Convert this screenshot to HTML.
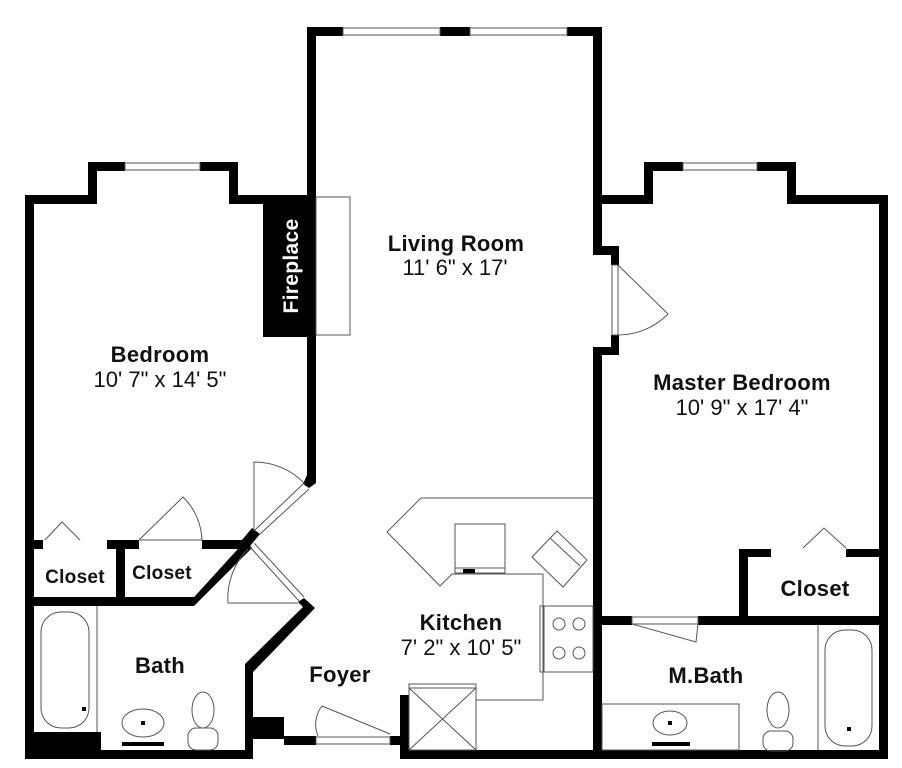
<!DOCTYPE html>
<html><head><meta charset="utf-8"><style>
html,body{margin:0;padding:0;background:#fff;}
svg{display:block;}
text{font-family:"Liberation Sans",Arial,sans-serif;fill:#111;}
.b{font-weight:bold;font-size:22px;letter-spacing:0.3px;}
.r{font-size:22px;}
</style></head><body>
<svg width="902" height="768" viewBox="0 0 902 768" xmlns="http://www.w3.org/2000/svg">
<g fill="#000">
<rect x="307" y="27" width="9" height="456"/>
<rect x="307" y="27" width="36" height="9"/>
<rect x="440" y="27" width="30" height="9"/>
<rect x="567" y="27" width="35" height="9"/>
<rect x="593" y="27" width="9" height="228"/>
<rect x="593" y="246" width="26" height="9"/>
<rect x="611" y="246" width="8" height="19"/>
<rect x="611" y="335" width="8" height="20"/>
<rect x="593" y="347" width="26" height="8"/>
<rect x="593" y="347" width="9" height="412"/>
<rect x="25" y="195" width="9" height="564"/>
<rect x="25" y="195" width="72" height="9"/>
<rect x="88" y="162" width="9" height="42"/>
<rect x="88" y="162" width="37" height="9"/>
<rect x="200" y="162" width="38" height="9"/>
<rect x="229" y="162" width="9" height="42"/>
<rect x="229" y="195" width="80" height="9"/>
<rect x="263" y="195" width="53" height="142"/>
<rect x="593" y="195" width="60" height="9"/>
<rect x="644" y="162" width="9" height="42"/>
<rect x="644" y="162" width="39" height="9"/>
<rect x="757" y="162" width="39" height="9"/>
<rect x="787" y="162" width="9" height="42"/>
<rect x="787" y="195" width="101" height="9"/>
<rect x="879" y="195" width="9" height="564"/>
<rect x="400" y="750" width="488" height="9"/>
<rect x="400" y="695" width="9" height="64"/>
<rect x="25" y="750" width="227" height="9"/>
<rect x="245" y="668" width="8" height="91"/>
<rect x="252" y="717" width="32" height="22"/>
<rect x="284" y="736" width="32" height="9"/>
<rect x="390" y="736" width="12" height="9"/>
<rect x="34" y="732" width="67" height="18"/>
<rect x="602" y="616" width="30" height="9"/>
<rect x="698" y="616" width="190" height="9"/>
<rect x="739" y="549" width="9" height="72"/>
<rect x="739" y="549" width="32" height="8"/>
<rect x="846" y="549" width="35" height="8"/>
<rect x="34" y="540" width="9" height="9"/>
<rect x="107" y="540" width="32" height="9"/>
<rect x="202" y="540" width="42" height="9"/>
<rect x="116" y="540" width="9" height="65"/>
<rect x="34" y="597" width="160" height="9"/>
<polygon points="186,606 194,606 252,548 246,540"/>
<polygon points="307,475 316,475 316,483 309,488 303,484"/>
<polygon points="252,528 260,534 250,546 242,540"/>
<polygon points="298,602 304,598 315,608 253,672 245,668 245,664 303,607"/>
</g>
<g fill="none" stroke="#555" stroke-width="1">
<rect x="343" y="28" width="97" height="7"/>
<rect x="470" y="28" width="97" height="7"/>
<rect x="125" y="163" width="75" height="7"/>
<rect x="683" y="163" width="74" height="7"/>
<rect x="316" y="197" width="34" height="138"/>
<rect x="612" y="265" width="6" height="70"/>
<path d="M618,265 L668,314 A70,70 0 0 1 618,335"/>
<path d="M303,484 L254,531 M309,489 L259,535"/>
<path d="M254,531 L254,462 A70,70 0 0 1 305,484"/>
<path d="M250,547 L299,601 M254,543 L304,597"/>
<path d="M298,603 L228,603 A70,70 0 0 1 248,549"/>
<rect x="316" y="737" width="74" height="7"/>
<path d="M390,734 L322,706 A30,30 0 0 0 318,736"/>
<rect x="632" y="617" width="66" height="7"/>
<path d="M632,624 L696,642 L698,624"/>
<path d="M803,548 L824,528 L846,548"/>
<path d="M45,540 L62,522 L80,540"/>
<path d="M139,540 L202,540 A63,63 0 0 0 183,497 L139,540"/>
<path d="M593,498 L421,498 L387,532 L440,586 L452,574 L543,574 L543,700 L476,700"/>
<rect x="455" y="524" width="50" height="49"/>
<line x1="455" y1="568" x2="505" y2="568"/>
<polygon points="557,531 587,560 563,587 532,557"/>
<line x1="550" y1="538" x2="580" y2="566"/>
<rect x="540" y="606" width="53" height="66"/>
<line x1="544" y1="606" x2="544" y2="672"/>
<circle cx="559" cy="624" r="6"/><circle cx="579" cy="624" r="6"/>
<circle cx="559" cy="653" r="6"/><circle cx="579" cy="653" r="6"/>
<rect x="409" y="684" width="67" height="66"/>
<line x1="409" y1="688" x2="476" y2="688"/>
<path d="M409,688 L476,750 M476,688 L409,750"/>
<line x1="97" y1="606" x2="97" y2="732"/>
<rect x="41" y="612" width="48" height="116" rx="20"/>
<ellipse cx="143" cy="723" rx="21" ry="14"/>
<ellipse cx="203" cy="710" rx="11" ry="18"/>
<rect x="188" y="728" width="30" height="22" rx="8"/>
<line x1="818" y1="625" x2="818" y2="750"/>
<rect x="825" y="630" width="47" height="116" rx="20"/>
<rect x="602" y="704" width="137" height="46"/>
<ellipse cx="670" cy="723" rx="17" ry="12"/>
<ellipse cx="778" cy="710" rx="11" ry="18"/>
<rect x="763" y="731" width="30" height="20" rx="8"/>
</g>
<g fill="#000">
<rect x="82" y="707" width="4" height="4"/>
<rect x="847" y="727" width="4" height="4"/>
<rect x="141" y="721" width="4" height="4"/>
<rect x="668" y="721" width="4" height="4"/>
<rect x="463" y="569" width="12" height="4"/>
<rect x="122" y="742" width="42" height="4"/>
<rect x="652" y="742" width="38" height="4"/>
</g>
<text class="b" x="456" y="251" text-anchor="middle">Living Room</text>
<text class="r" x="455" y="275" text-anchor="middle">11' 6" x 17'</text>
<text class="b" x="160" y="362" text-anchor="middle">Bedroom</text>
<text class="r" x="160" y="387" text-anchor="middle">10' 7" x 14' 5"</text>
<text class="b" x="742" y="390" text-anchor="middle">Master Bedroom</text>
<text class="r" x="742" y="415" text-anchor="middle">10' 9" x 17' 4"</text>
<text class="b" x="461" y="630" text-anchor="middle">Kitchen</text>
<text class="r" x="461" y="655" text-anchor="middle">7' 2" x 10' 5"</text>
<text class="b" x="160" y="673" text-anchor="middle">Bath</text>
<text class="b" x="340" y="682" text-anchor="middle">Foyer</text>
<text class="b" x="706" y="683" text-anchor="middle">M.Bath</text>
<text class="b" x="815" y="596" text-anchor="middle">Closet</text>
<text class="b" x="75" y="583" text-anchor="middle" style="font-size:19px">Closet</text>
<text class="b" x="162" y="579" text-anchor="middle" style="font-size:19px">Closet</text>
<text class="b" x="0" y="0" text-anchor="middle" transform="translate(298,266) rotate(-90)" style="fill:#fff;font-size:21px">Fireplace</text>
</svg>
</body></html>
